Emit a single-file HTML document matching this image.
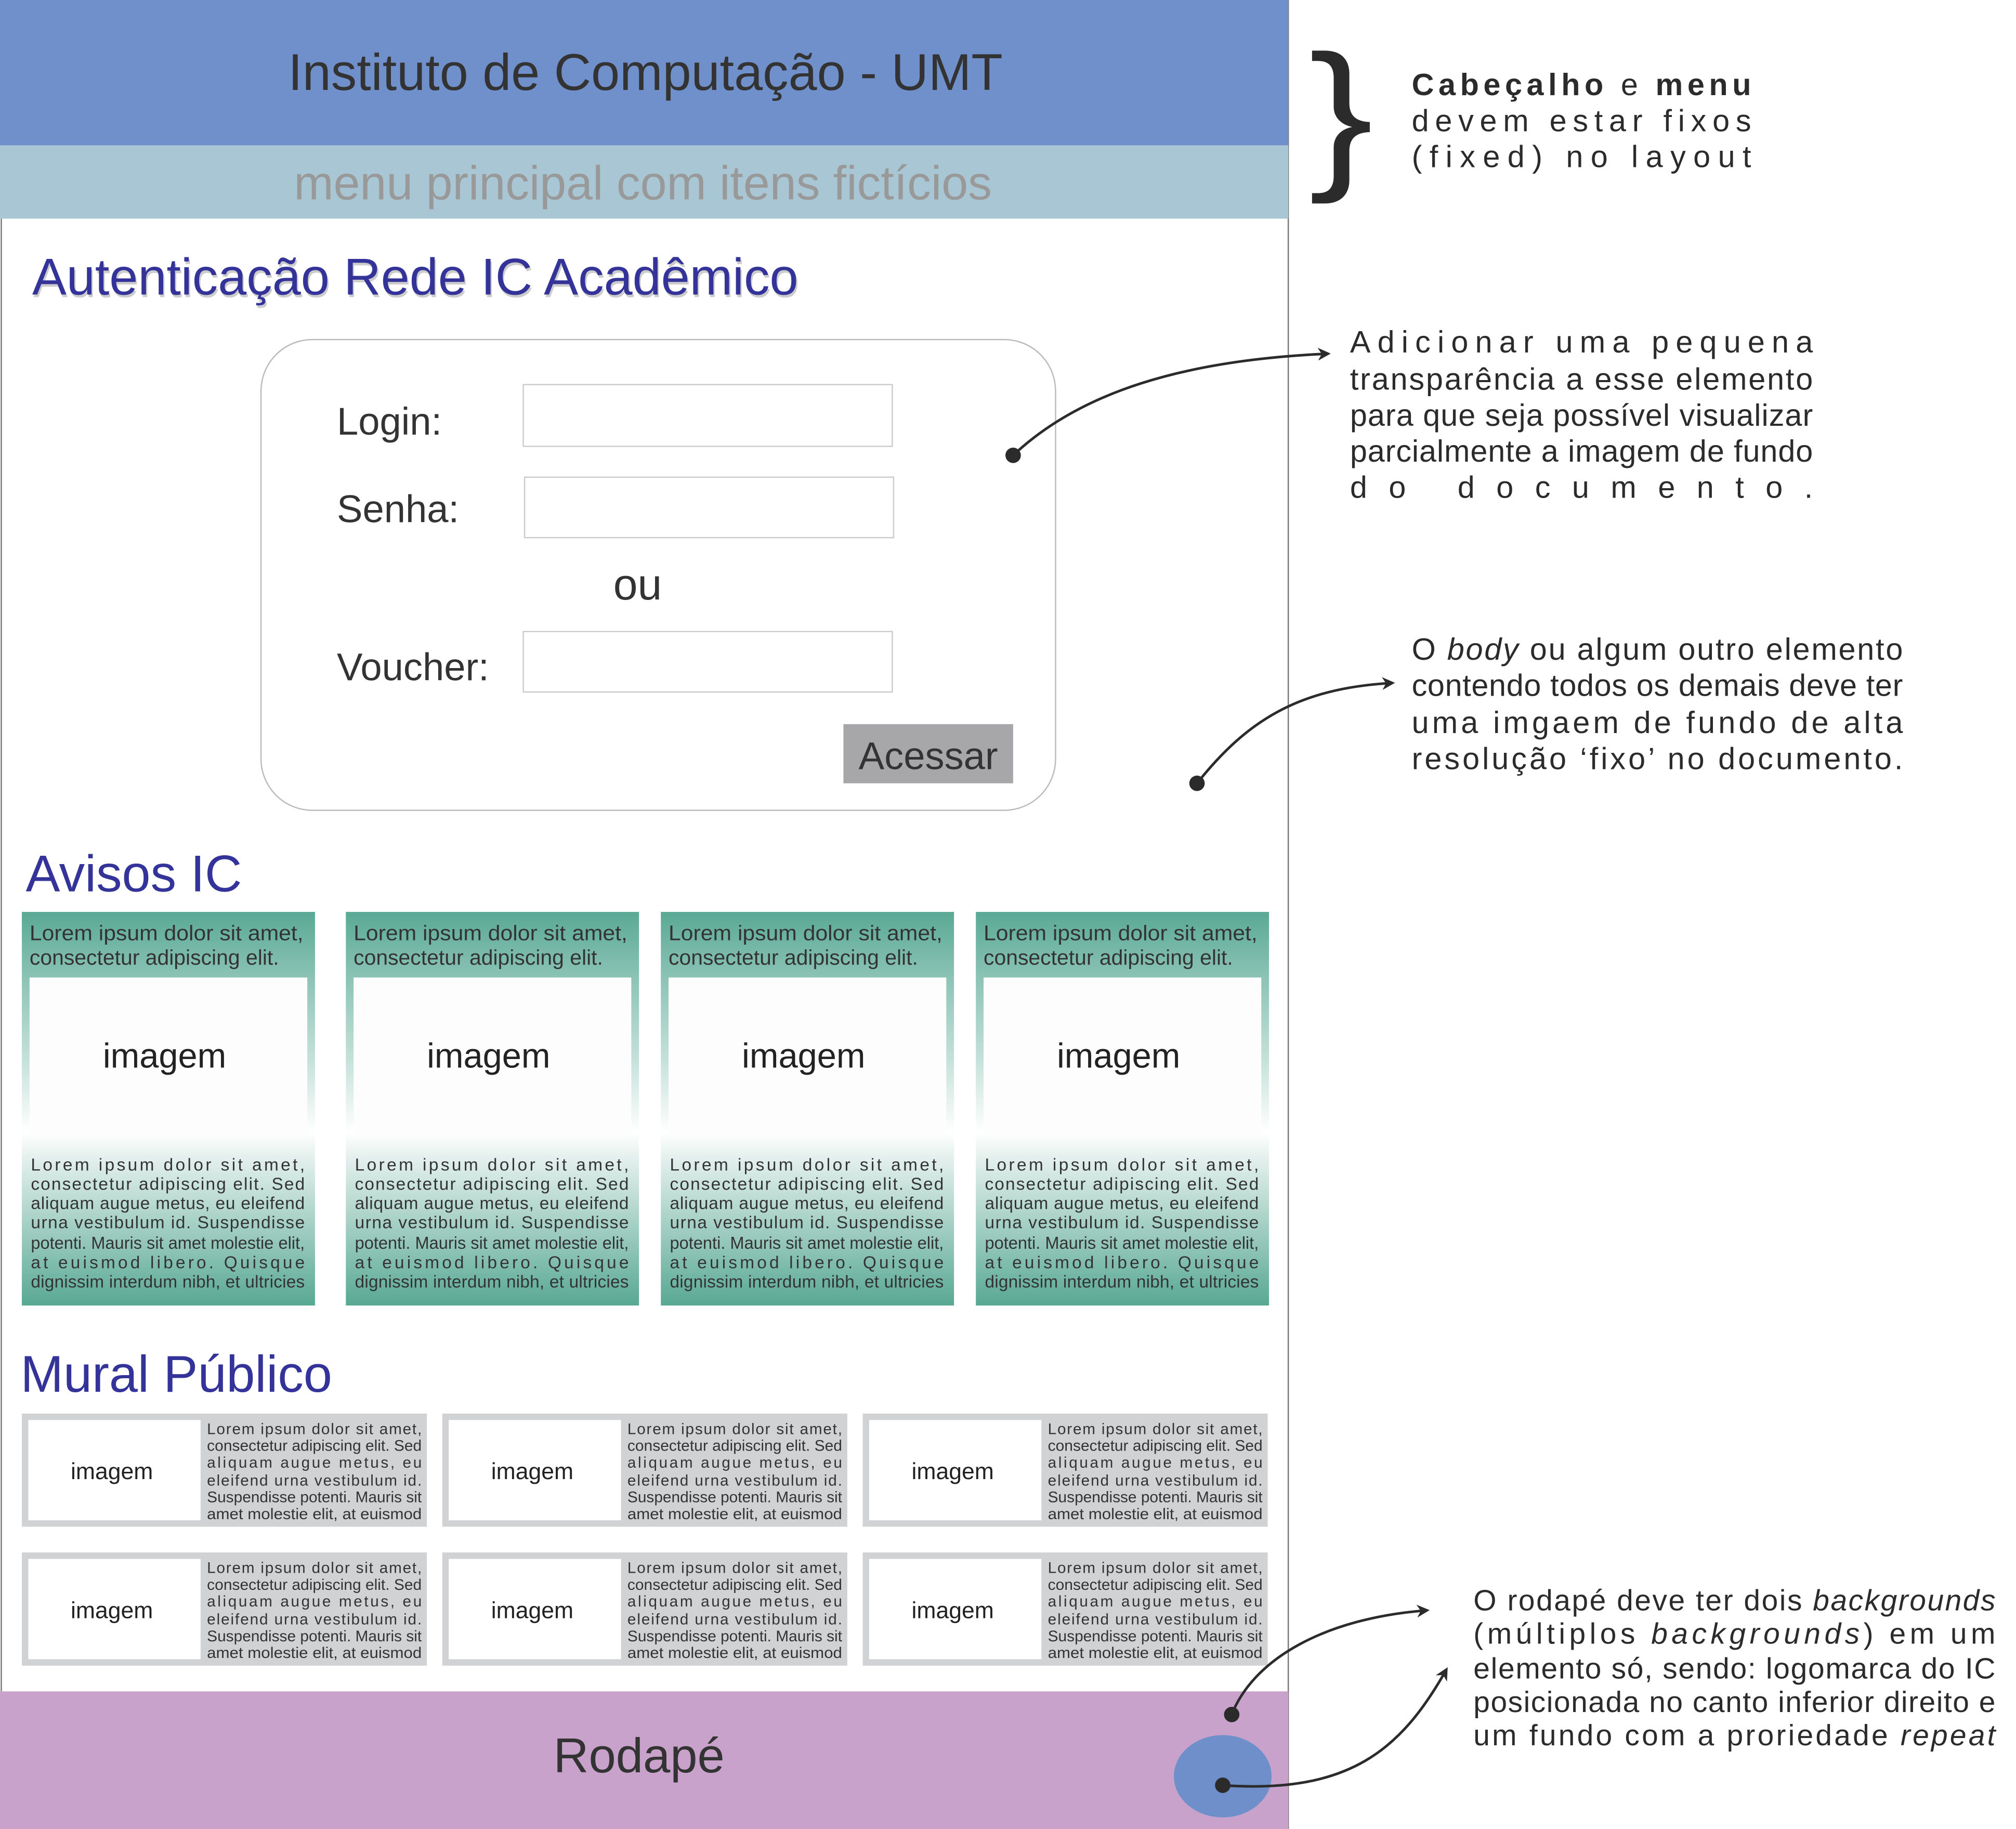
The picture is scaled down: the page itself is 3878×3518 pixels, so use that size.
<!DOCTYPE html>
<html><head><meta charset="utf-8"><style>
html,body{margin:0;padding:0;background:#fff;}
svg{display:block;}
text{font-family:"Liberation Sans",sans-serif;}
</style></head><body>
<svg width="3878" height="3518" viewBox="0 0 1568 1422" preserveAspectRatio="none" xmlns="http://www.w3.org/2000/svg">
<defs>
<linearGradient id="tg" x1="0" y1="0" x2="0" y2="1">
<stop offset="0" stop-color="#5aa995"/>
<stop offset="0.18" stop-color="#8fc5b7"/>
<stop offset="0.38" stop-color="#c6e2da"/>
<stop offset="0.56" stop-color="#ffffff"/>
<stop offset="0.62" stop-color="#e6f1ee"/>
<stop offset="1" stop-color="#58a893"/>
</linearGradient>
<marker id="ah" markerWidth="10" markerHeight="10" refX="8" refY="5" orient="auto" markerUnits="userSpaceOnUse"><path d="M0,0 L10,5 L0,10 L3,5 Z" fill="#2b2b2b"/></marker>
</defs>
<line x1="1" y1="170" x2="1" y2="1315" stroke="#777" stroke-width="1"/>
<line x1="1002" y1="0" x2="1002" y2="1422" stroke="#777" stroke-width="1"/>
<rect x="0" y="0" width="1002" height="113" fill="#7090cb"/>
<text x="502" y="70" font-size="40" fill="#333" text-anchor="middle">Instituto de Computação - UMT</text>
<rect x="0" y="113" width="1002" height="57" fill="#a8c6d4"/>
<text x="500" y="155" font-size="37" fill="#999" text-anchor="middle">menu principal com itens fictícios</text>
<text x="1018" y="133" font-size="150" fill="#2b2b2b" transform="scale(1,0.85) translate(0,22)">}</text>
<g font-size="24" fill="#2b2b2b">
<text x="1098" y="74" textLength="264" lengthAdjust="spacing"><tspan font-weight="bold">Cabeçalho</tspan> e <tspan font-weight="bold">menu</tspan></text>
<text x="1098" y="102" textLength="264" lengthAdjust="spacing">devem estar fixos</text>
<text x="1098" y="130" textLength="264" lengthAdjust="spacing">(fixed) no layout</text>
</g>
<text x="26" y="231" font-size="40" fill="#ccc">Autenticação Rede IC Acadêmico</text>
<text x="25" y="229" font-size="40" fill="#333399">Autenticação Rede IC Acadêmico</text>
<rect x="203" y="264" width="618" height="366" rx="40" fill="#fff" stroke="#bbb" stroke-width="1"/>
<g font-size="30" fill="#333">
<text x="262" y="338">Login:</text>
<text x="262" y="406">Senha:</text>
<text x="477" y="466" font-size="34">ou</text>
<text x="262" y="529">Voucher:</text>
</g>
<rect x="407" y="299" width="287" height="48" fill="#fff" stroke="#ccc"/>
<rect x="408" y="371" width="287" height="47" fill="#fff" stroke="#ccc"/>
<rect x="407" y="491" width="287" height="47" fill="#fff" stroke="#ccc"/>
<rect x="656" y="563" width="132" height="46" fill="#a7a7a9"/>
<text x="722" y="598" font-size="30" fill="#333" text-anchor="middle">Acessar</text>
<g stroke="#2b2b2b" stroke-width="2" fill="none">
<path d="M788,354 C840,305 920,280 1033,275" marker-end="url(#ah)"/>
<path d="M931,609 C970,560 1010,535 1083,531" marker-end="url(#ah)"/>
</g>
<g fill="#2b2b2b"><circle cx="788" cy="354" r="6"/><circle cx="931" cy="609" r="6"/></g>
<g font-size="24" fill="#2b2b2b">
<text x="1050" y="274" textLength="360" lengthAdjust="spacing">Adicionar uma pequena</text>
<text x="1050" y="303" textLength="360" lengthAdjust="spacing">transparência a esse elemento</text>
<text x="1050" y="331" textLength="360" lengthAdjust="spacing">para que seja possível visualizar</text>
<text x="1050" y="359" textLength="360" lengthAdjust="spacing">parcialmente a imagem de fundo</text>
<text x="1050" y="387" textLength="360" lengthAdjust="spacing">do documento.</text>
<text x="1098" y="513" textLength="382" lengthAdjust="spacing">O <tspan font-style="italic">body</tspan> ou algum outro elemento</text>
<text x="1098" y="541" textLength="382" lengthAdjust="spacing">contendo todos os demais deve ter</text>
<text x="1098" y="570" textLength="382" lengthAdjust="spacing">uma imgaem de fundo de alta</text>
<text x="1098" y="598" textLength="382" lengthAdjust="spacing">resolução ‘fixo’ no documento.</text>
</g>
<text x="20" y="693" font-size="40" fill="#333399">Avisos IC</text>
<g id="cards">
<g transform="translate(17,0)">
<rect x="0" y="709" width="228" height="306" fill="url(#tg)"/>
<rect x="6" y="760" width="216" height="123" fill="#fdfdfd"/>
<text x="111" y="830" font-size="27" fill="#222" text-anchor="middle">imagem</text>
<g font-size="16.5" fill="#333"><text x="6" y="731" textLength="213" lengthAdjust="spacingAndGlyphs">Lorem ipsum dolor sit amet,</text><text x="6" y="750" textLength="194" lengthAdjust="spacingAndGlyphs">consectetur adipiscing elit.</text></g>
<g font-size="13.5" fill="#333">
<text x="7" y="910" textLength="213" lengthAdjust="spacing">Lorem ipsum dolor sit amet,</text>
<text x="7" y="925" textLength="213" lengthAdjust="spacing">consectetur adipiscing elit. Sed</text>
<text x="7" y="940" textLength="213" lengthAdjust="spacing">aliquam augue metus, eu eleifend</text>
<text x="7" y="955" textLength="213" lengthAdjust="spacing">urna vestibulum id. Suspendisse</text>
<text x="7" y="971" textLength="213" lengthAdjust="spacingAndGlyphs">potenti. Mauris sit amet molestie elit,</text>
<text x="7" y="986" textLength="213" lengthAdjust="spacing">at euismod libero. Quisque</text>
<text x="7" y="1001" textLength="213" lengthAdjust="spacing">dignissim interdum nibh, et ultricies</text>
</g>
</g>
</g>
<use href="#cards" transform="translate(252,0)"/>
<use href="#cards" transform="translate(497,0)"/>
<use href="#cards" transform="translate(742,0)"/>
<text x="16" y="1082" font-size="40" fill="#333399">Mural Público</text>
<g id="mc">
<rect x="17" y="1099" width="315" height="88" fill="#d1d2d4"/>
<rect x="22" y="1104" width="134" height="78" fill="#fff"/>
<text x="87" y="1150" font-size="18" fill="#222" text-anchor="middle">imagem</text>
<g font-size="12" fill="#333">
<text x="161" y="1115" textLength="167" lengthAdjust="spacing">Lorem ipsum dolor sit amet,</text>
<text x="161" y="1128" textLength="167" lengthAdjust="spacingAndGlyphs">consectetur adipiscing elit. Sed</text>
<text x="161" y="1141" textLength="167" lengthAdjust="spacing">aliquam augue metus, eu</text>
<text x="161" y="1155" textLength="167" lengthAdjust="spacing">eleifend urna vestibulum id.</text>
<text x="161" y="1168" textLength="167" lengthAdjust="spacingAndGlyphs">Suspendisse potenti. Mauris sit</text>
<text x="161" y="1181" textLength="167" lengthAdjust="spacingAndGlyphs">amet molestie elit, at euismod</text>
</g>
</g>
<use href="#mc" transform="translate(327,0)"/>
<use href="#mc" transform="translate(654,0)"/>
<use href="#mc" transform="translate(0,108)"/>
<use href="#mc" transform="translate(327,108)"/>
<use href="#mc" transform="translate(654,108)"/>
<rect x="0" y="1315" width="1002" height="107" fill="#c8a2cb"/>
<text x="497" y="1378" font-size="38" fill="#333" text-anchor="middle">Rodapé</text>
<ellipse cx="951" cy="1381" rx="38" ry="32" fill="#6f8fcb"/>
<g stroke="#2b2b2b" stroke-width="2" fill="none">
<path d="M958,1333 C975,1290 1030,1258 1110,1252" marker-end="url(#ah)"/>
<path d="M951,1388 C1050,1395 1090,1360 1125,1298" marker-end="url(#ah)"/>
</g>
<g fill="#2b2b2b"><circle cx="958" cy="1333" r="6"/><circle cx="951" cy="1388" r="6"/></g>
<g font-size="23" fill="#2b2b2b">
<text x="1146" y="1252" textLength="406" lengthAdjust="spacing">O rodapé deve ter dois <tspan font-style="italic">backgrounds</tspan></text>
<text x="1146" y="1278" textLength="406" lengthAdjust="spacing">(múltiplos <tspan font-style="italic">backgrounds</tspan>) em um</text>
<text x="1146" y="1305" textLength="406" lengthAdjust="spacing">elemento só, sendo: logomarca do IC</text>
<text x="1146" y="1331" textLength="406" lengthAdjust="spacing">posicionada no canto inferior direito e</text>
<text x="1146" y="1357" textLength="406" lengthAdjust="spacing">um fundo com a proriedade <tspan font-style="italic">repeat</tspan></text>
</g>
</svg>
</body></html>
